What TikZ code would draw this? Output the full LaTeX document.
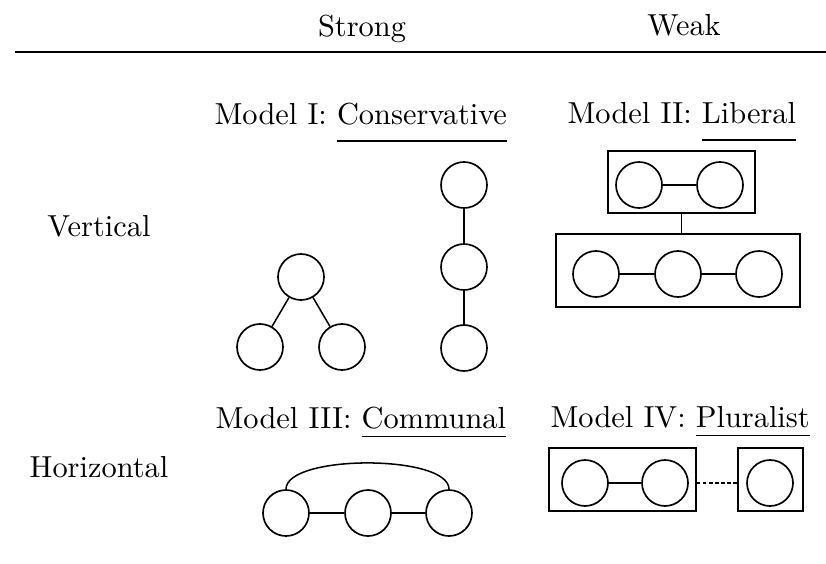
\documentclass[tikz,border=0pt]{standalone}
\newcommand{\myul}[2]{\setbox0\hbox{#2}\rlap{\rule[-#1]{\wd0}{0.5pt}}\box0}
\tikzset{
  circ/.style={circle, draw, line width=0.55pt, minimum size=15.13pt, inner sep=0pt},
  box/.style={rectangle, draw, line width=0.45pt, inner sep=0pt},
  link/.style={line width=0.5pt},
  lbl/.style={anchor=base, inner sep=0pt},
  lblw/.style={anchor=base west, inner sep=0pt},
}
\begin{document}
\begin{tikzpicture}[x=0.329pt, y=-0.329pt]
\useasboundingbox (0,0) rectangle (826,563);
% header
\node[lbl] (strong) at (362,37) {Strong};
\node[lbl] (weak) at (684,36) {Weak};
\coordinate (rl) at (15,52);
\coordinate (rr) at (826,52);
\draw[line width=0.6pt] (rl) -- (rr);
\node[lbl] (vert) at (99,237) {Vertical};
\node[lbl] (horiz) at (99,477) {Horizontal};
% titles
\node[lblw] (m1) at (214,125) {Model I: \myul{5.5pt}{Conservative}};
\node[lblw] (m2) at (567,124) {Model II: \myul{5.5pt}{Liberal}};
\node[lblw] (m3) at (215,428) {Model III: \myul{3pt}{Communal}};
\node[lblw] (m4) at (550,427) {Model IV: \myul{3pt}{Pluralist}};
% Model I tree
\node[circ] (t) at (301,277) {};
\node[circ] (tl) at (260,347) {};
\node[circ] (tr) at (342,347) {};
\draw[link] (t) -- (tl);
\draw[link] (t) -- (tr);
% Model I chain
\node[circ] (ca) at (464,185) {};
\node[circ] (cb) at (464,267) {};
\node[circ] (cc) at (464,348) {};
\draw[link] (ca) -- (cb);
\draw[link] (cb) -- (cc);
% Model II
\node[box, minimum width=48.4pt, minimum height=20.4pt] (tb) at (681.5,182) {};
\node[circ] (l1) at (639,185) {};
\node[circ] (l2) at (720,185) {};
\draw[link] (l1) -- (l2);
\node[box, minimum width=80.3pt, minimum height=24.0pt] (lb) at (678,270.5) {};
\node[circ] (l3) at (596,274) {};
\node[circ] (l4) at (678,274) {};
\node[circ] (l5) at (759,274) {};
\draw[link] (l3) -- (l4);
\draw[link] (l4) -- (l5);
\draw[link] (tb.south) -- (tb.south |- lb.north);
% Model III
\node[circ] (h1) at (286,513) {};
\node[circ] (h2) at (368,513) {};
\node[circ] (h3) at (449,513) {};
\draw[link] (h1) -- (h2);
\draw[link] (h2) -- (h3);
\draw[link] (h1.north) .. controls +(0,-35) and +(0,-35) .. (h3.north);
% Model IV
\node[box, minimum width=48.4pt, minimum height=20.7pt] (pb1) at (622.5,479.5) {};
\node[circ] (p1) at (585,483) {};
\node[circ] (p2) at (665,483) {};
\draw[link] (p1) -- (p2);
\node[box, minimum width=21.4pt, minimum height=20.7pt] (pb2) at (770.5,479.5) {};
\node[circ] (p3) at (770,483) {};
\draw[link, dash pattern=on 1.2pt off 0.8pt] (pb1.east |- p2) -- (pb2.west |- p3);
\end{tikzpicture}
\end{document}
